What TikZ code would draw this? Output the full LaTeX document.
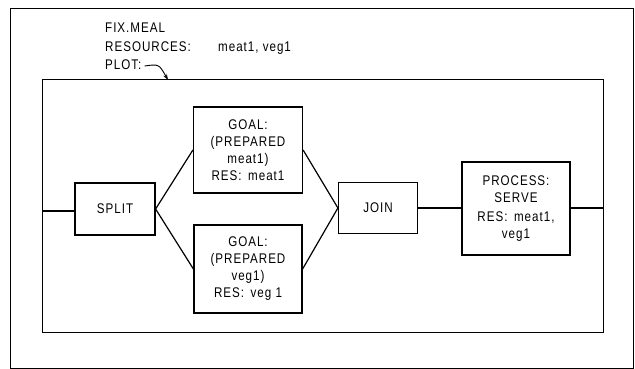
\documentclass[tikz,border=0pt]{standalone}
\usepackage{fontspec}
\setmainfont[FakeStretch=0.83,LetterSpace=7]{Liberation Sans}
\usetikzlibrary{arrows.meta}
\begin{document}
\begin{tikzpicture}[x=1pt,y=-1pt,
  font=\fontsize{14}{17}\selectfont,
  box/.style={draw,line width=1.2pt,align=center,inner sep=0pt},
  conn/.style={line width=1.2pt},
  frame/.style={draw,line width=0.8pt},
  lbl/.style={anchor=base west,inner sep=0pt}]
\useasboundingbox (0,0) rectangle (635,369);
\draw[frame] (10,8) rectangle (633,368);
\draw[frame,line width=1pt] (42,80) rectangle (603,332);
\node[lbl] (fix) at (105,33) {FIX.MEAL};
\node[lbl] (res) at (105,52) {RESOURCES:};
\node[lbl] (rv) at (218,52) {meat1, veg1};
\node[lbl] (plot) at (105,70) {PLOT:};
\coordinate (pt) at (168,80);
\draw[line width=0.9pt,-{Stealth[length=6pt,width=4pt]}] (plot.base east) ++(3,-4) .. controls (159,64) .. (pt);
\coordinate (inL) at (42,211);
\coordinate (inR) at (603,208);
\node[box,minimum width=80,minimum height=52] (split) at (115,209) {SPLIT};
\node[box,minimum width=109,minimum height=86] (g1) at (248,150) {GOAL:\\(PREPARED\\meat1)\\RES:\, meat1};
\node[box,minimum width=108,minimum height=88] (g2) at (248,269) {GOAL:\\(PREPARED\\veg1)\\RES:\, veg 1};
\node[box,minimum width=79,minimum height=51] (join) at (378,208) {JOIN};
\node[box,minimum width=108,minimum height=93] (proc) at (516,208.5) {PROCESS:\\SERVE\\[2pt]RES:\, meat1,\\veg1};
\draw[conn] (inL) -- (split.west |- inL);
\draw[conn] (split.east) -- (g1.west);
\draw[conn] (split.east) -- (g2.west);
\draw[conn] (g1.east) -- (join.west);
\draw[conn] (g2.east) -- (join.west);
\draw[conn] (join.east) -- (proc.west |- join.east);
\draw[conn] (proc.east |- inR) -- (inR);
\end{tikzpicture}
\end{document}
